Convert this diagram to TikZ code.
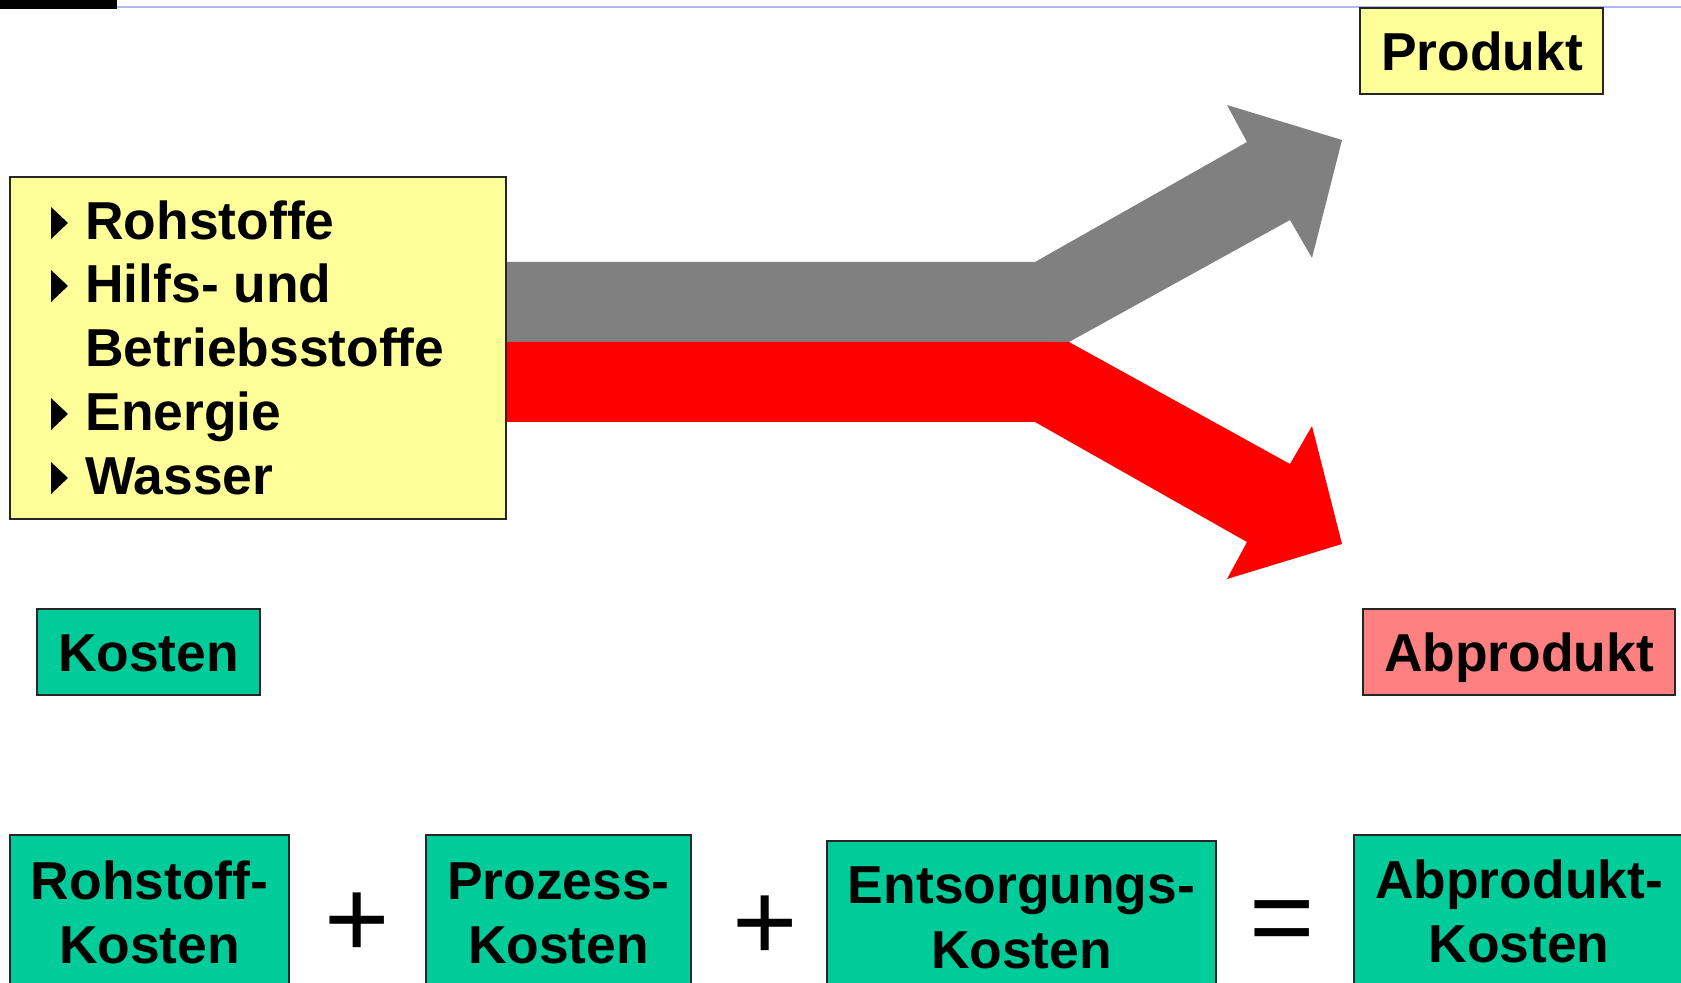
\documentclass[tikz,border=0pt]{standalone}
\usepackage{fontspec}
\setmainfont{Liberation Sans}
\usetikzlibrary{fit}
\definecolor{lyellow}{HTML}{FFFF99}
\definecolor{tgreen}{HTML}{00CC99}
\definecolor{salmon}{HTML}{FF8080}
\definecolor{flowgray}{HTML}{808080}
\definecolor{flowred}{HTML}{FF0000}
\definecolor{rulepurple}{HTML}{B4B4F0}
\begin{document}
\begin{tikzpicture}[x=0.5pt,y=-0.5pt,
  box/.style={draw=black!85, line width=1pt, inner sep=0pt},
  ybox/.style={box, fill=lyellow},
  gbox/.style={box, fill=tgreen},
  rbox/.style={box, fill=salmon},
  lbl/.style={font=\bfseries\fontsize{26.7pt}{32pt}\selectfont, inner sep=0pt, anchor=base},
  item/.style={lbl, anchor=base west},
  opsym/.style={font=\fontsize{56pt}{60pt}\selectfont, inner sep=0pt, anchor=center},
  bullet/.style={fill=black}]
\useasboundingbox (0,0) rectangle (1681,983);
% top rule
\fill[black] (0,0) rectangle (117,9);
\draw[rulepurple, line width=0.75pt] (117,7) -- (1681,7);
% flows
\fill[flowgray] (500,262) -- (1035,262) -- (1247,142) -- (1227,105) -- (1342,140)
  -- (1312,258) -- (1290,220) -- (1069,342) -- (500,342) -- cycle;
\fill[flowred] (500,342) -- (1069,342) -- (1290,464) -- (1312,426) -- (1342,544)
  -- (1227,579) -- (1247,542) -- (1035,422) -- (500,422) -- cycle;
% input box
\node[ybox, fit={(10,177) (506,519)}] (inputs) {};
\foreach \yb/\name/\txt in {240/i1/Rohstoffe, 303/i2/Hilfs- und, 431/i4/Energie, 495/i5/Wasser}{
  \fill[bullet] (51,\yb-33) -- (68,\yb-17) -- (51,\yb-1) -- cycle;
  \node[item] (\name) at (85,\yb) {\txt};
}
\node[item] (i3) at (85,367) {Betriebsstoffe};
% output boxes
\node[ybox, fit={(1360,8) (1603,94)}] (produktbox) {};
\node[lbl] (produkt) at (1482,71) {Produkt};
\node[gbox, fit={(37,609) (260,695)}] (kostenbox) {};
\node[lbl] (kosten) at (148.5,671) {Kosten};
\node[rbox, fit={(1363,609) (1675,695)}] (abproduktbox) {};
\node[lbl] (abprodukt) at (1519,671) {Abprodukt};
% cost equation
\node[gbox, fit={(10,835) (289,995)}] (rk) {};
\node[lbl] (rk1) at (149.5,899) {Rohstoff-};
\node[lbl] (rk2) at (149.5,963) {Kosten};
\node[opsym] (plus1) at (357,925) {+};
\node[gbox, fit={(426,835) (691,995)}] (pk) {};
\node[lbl] (pk1) at (558.5,899) {Prozess-};
\node[lbl] (pk2) at (558.5,963) {Kosten};
\node[opsym] (plus2) at (765,928) {+};
\node[gbox, fit={(827,841) (1216,995)}] (ek) {};
\node[lbl] (ek1) at (1021.5,903) {Entsorgungs-};
\node[lbl] (ek2) at (1021.5,968) {Kosten};
\node[opsym] (eq) at (1282,928) {=};
\node[gbox, fit={(1354,835) (1690,995)}] (ak) {};
\node[lbl] (ak1) at (1519,898) {Abprodukt-};
\node[lbl] (ak2) at (1519,962) {Kosten};
\end{tikzpicture}
\end{document}
